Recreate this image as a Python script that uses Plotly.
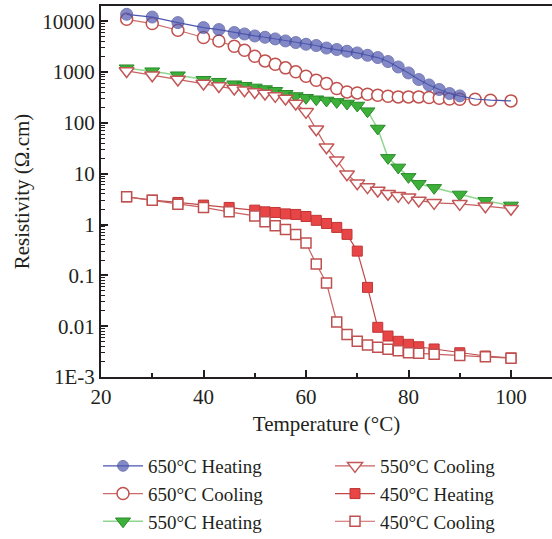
import plotly.graph_objects as go

# Temperature grids (°C)
temp_650_heat = [25, 30, 35, 40, 43, 46, 48, 50, 52, 54, 56, 58, 60, 62, 64, 66, 68, 70,
                 72, 74, 76, 78, 80, 82, 84, 86, 88, 90, 93, 96, 100]
temp_650_cool = [25, 30, 35, 40, 43, 46, 48, 50, 52, 54, 56, 58, 60, 62, 64, 66, 68, 70,
                 72, 74, 76, 78, 80, 82, 84, 86, 88, 90, 93, 96, 100]
temp_550 = [25, 30, 35, 40, 43, 46, 48, 50, 52, 54, 56, 58, 60, 62, 64, 66, 68, 70,
            72, 74, 76, 78, 80, 82, 85, 90, 95, 100]
temp_450 = [25, 30, 35, 40, 45, 50, 52, 54, 56, 58, 60, 62, 64, 66, 68, 70,
            72, 74, 76, 78, 80, 82, 85, 90, 95, 100]

# Resistivity (Ω.cm)
rho_650_heat = [13700, 12100, 9400, 7500, 6860, 5990, 5620, 5140, 4840, 4490, 4100, 3810,
                3530, 3330, 2970, 2780, 2570, 2380, 2140, 1930, 1610, 1260, 962, 713, 558,
                454, 378, 340, 295, 280, 271]
rho_650_cool = [10900, 9000, 6650, 4780, 4100, 3220, 2690, 2050, 1660, 1430, 1210, 1010,
                828, 691, 595, 475, 407, 389, 367, 350, 335, 325, 325, 325, 316, 306, 296,
                292, 292, 279, 271]
rho_550_heat = [1190, 1040, 867, 707, 646, 577, 539, 499, 464, 428, 375, 338, 312, 292,
                276, 259, 241, 220, 170, 77.6, 20.5, 13.3, 8.67, 6.32, 5.27, 3.91, 2.93, 2.38]
rho_550_cool = [1052, 867, 713, 595, 534, 475, 439, 407, 378, 340, 302, 241, 165, 75.2,
                33.3, 18.5, 9.8, 6.52, 5.45, 4.69, 4.04, 3.67, 3.46, 2.98, 2.67, 2.55, 2.30, 2.04]
rho_450_heat = [3.51, 3.02, 2.72, 2.41, 2.17, 1.92, 1.78, 1.73, 1.62, 1.58, 1.44, 1.21,
                1.05, 0.877, 0.64, 0.30, 0.058, 0.0095, 0.0064, 0.00504, 0.0044, 0.00394,
                0.00356, 0.0030, 0.00259, 0.00237]
rho_450_cool = [3.51, 3.02, 2.52, 2.17, 1.78, 1.48, 1.13, 0.944, 0.80, 0.634, 0.432, 0.167,
                0.0705, 0.0121, 0.00686, 0.00506, 0.00426, 0.00384, 0.00351, 0.00329,
                0.0030, 0.00292, 0.00281, 0.00265, 0.00251, 0.00235]

y_tick_vals = [1e-3, 0.01, 0.1, 1, 10, 100, 1000, 10000]
y_tick_text = ["1E-3", "0.01", "0.1", "1", "10", "100", "1000", "10000"]

FONT = "Liberation Serif"
TEXT = "#231f20"
FS = 21

fig = go.Figure()

# Heating markers past 90 °C are hidden under the cooling circles
heat650_sizes = [12 if t <= 90 else 0 for t in temp_650_heat]

fig.add_trace(go.Scatter(
    x=temp_650_cool, y=rho_650_cool, name="650°C Cooling", mode="lines+markers",
    line=dict(color="#cc6b6b", width=1.2),
    marker=dict(symbol="circle", size=12, color="white", line=dict(color="#c0504d", width=1.5)),
    legend="legend", legendrank=2))
fig.add_trace(go.Scatter(
    x=temp_650_heat, y=rho_650_heat, name="650°C Heating", mode="lines+markers",
    line=dict(color="#4a55b0", width=1.2),
    marker=dict(symbol="circle", size=heat650_sizes, color="#5058ae",
                line=dict(color="#3d4699", width=1)),
    legend="legend", legendrank=1))
fig.add_trace(go.Scatter(
    x=temp_550, y=rho_550_heat, name="550°C Heating", mode="lines+markers",
    line=dict(color="#8fd68f", width=1.5),
    marker=dict(symbol="triangle-down", size=13, color="#3db03a",
                line=dict(color="#2a8a2a", width=1)),
    legend="legend", legendrank=3))
fig.add_trace(go.Scatter(
    x=temp_550, y=rho_550_cool, name="550°C Cooling", mode="lines+markers",
    line=dict(color="#c86060", width=1.2),
    marker=dict(symbol="triangle-down", size=13, color="white",
                line=dict(color="#c25656", width=1.5)),
    legend="legend2", legendrank=1))
fig.add_trace(go.Scatter(
    x=temp_450, y=rho_450_heat, name="450°C Heating", mode="lines+markers",
    line=dict(color="#c04848", width=1.2),
    marker=dict(symbol="square", size=10, color="#e84646", line=dict(color="#c03535", width=1)),
    legend="legend2", legendrank=2))
fig.add_trace(go.Scatter(
    x=temp_450, y=rho_450_cool, name="450°C Cooling", mode="lines+markers",
    line=dict(color="#c86060", width=1.2),
    marker=dict(symbol="square", size=10, color="white", line=dict(color="#c05050", width=1.5)),
    legend="legend2", legendrank=3))

W, H = 552, 539
L, R, T, B = 101, 0, 6, 162
pw, ph = W - L - R, H - T - B

def px_to_paper_x(px):
    return (px - L) / pw

def px_to_paper_y(py):
    return (H - B - py) / ph

legend_common = dict(
    font=dict(family=FONT, size=19, color=TEXT),
    bgcolor="rgba(0,0,0,0)", borderwidth=0,
    xanchor="left", yanchor="top", orientation="v",
    traceorder="normal", tracegroupgap=0, itemwidth=40,
)

fig.update_layout(
    width=W, height=H,
    margin=dict(l=L, r=R, t=T, b=B, pad=0, autoexpand=False),
    paper_bgcolor="white", plot_bgcolor="white",
    font=dict(family=FONT, size=FS, color=TEXT),
    showlegend=True,
    legend=dict(x=px_to_paper_x(98), y=px_to_paper_y(447), **legend_common),
    legend2=dict(x=px_to_paper_x(330), y=px_to_paper_y(447), **legend_common),
    xaxis=dict(
        automargin=False,
        range=[20, 108], tickmode="array", tickvals=[20, 40, 60, 80, 100],
        ticks="inside", ticklen=7, tickwidth=1.5, tickcolor="#231f20",
        showline=True, linecolor="#231f20", linewidth=2, mirror=True,
        showgrid=False, zeroline=False,
        tickfont=dict(family=FONT, size=FS, color=TEXT),
        minor=dict(tickvals=[30, 50, 70, 90], ticks="inside", ticklen=4, tickwidth=1.5,
                   tickcolor="#231f20", showgrid=False),
        title=dict(text="Temperature (°C)", font=dict(family=FONT, size=FS, color=TEXT),
                   standoff=8),
    ),
    yaxis=dict(
        automargin=False,
        type="log", range=[-3, 4.3], tickmode="array",
        tickvals=y_tick_vals, ticktext=y_tick_text,
        ticks="inside", ticklen=7, tickwidth=1.5, tickcolor="#231f20",
        showline=True, linecolor="#231f20", linewidth=2, mirror=False,
        showgrid=False, zeroline=False,
        tickfont=dict(family=FONT, size=FS, color=TEXT),
        minor=dict(dtick="D1", ticks="inside", ticklen=4, tickwidth=1, tickcolor="#231f20",
                   showgrid=False),
        title=dict(text="Resistivity (Ω.cm)", font=dict(family=FONT, size=FS, color=TEXT),
                   standoff=7),
    ),
)

fig.write_html("out.html")
